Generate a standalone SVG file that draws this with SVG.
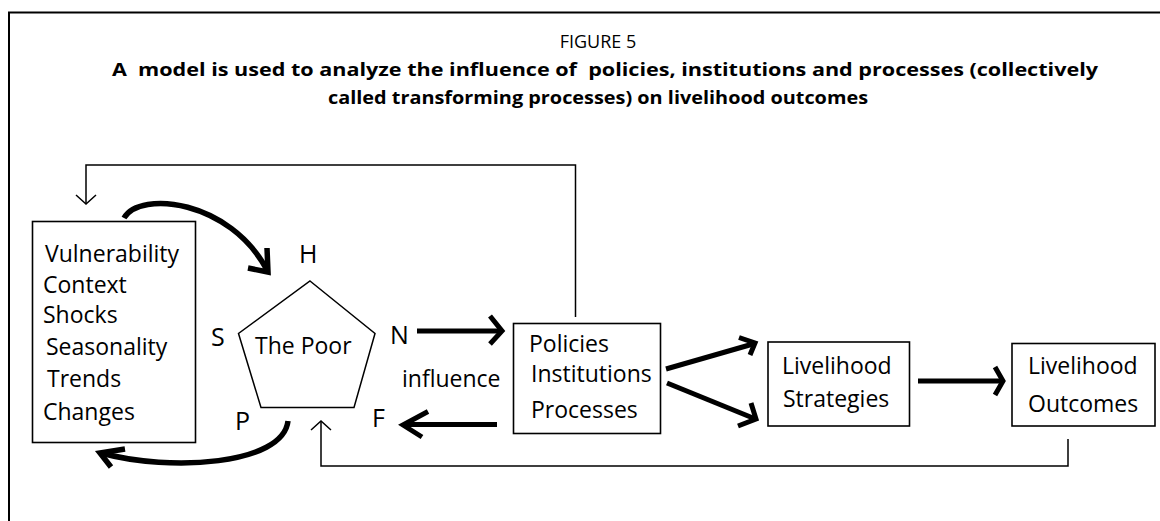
<svg xmlns="http://www.w3.org/2000/svg" width="1160" height="521" viewBox="0 0 1160 521">
<style>
  .t { font-family: "Open Sans", "Noto Sans", sans-serif; font-size: 23px; fill: #000; }
  .l { font-family: "Open Sans", "Noto Sans", sans-serif; font-size: 25px; fill: #000; }
  .ttl { font-family: "Open Sans", "Noto Sans", sans-serif; fill: #000; white-space: pre; }
  .box { fill: #fff; stroke: #000; stroke-width: 1.6; }
  .thin { fill: none; stroke: #000; stroke-width: 1.5; }
  .thick { fill: none; stroke: #000; stroke-width: 5; stroke-linejoin: miter; }
  .curve { fill: none; stroke: #000; stroke-width: 5.5; stroke-linejoin: miter; }
</style>
<rect width="1160" height="521" fill="#fff"/>
<path d="M9,521 V12.5 H1160" fill="none" stroke="#000" stroke-width="2"/>

<g id="title">
  <text class="ttl" x="598" y="48" font-size="18" text-anchor="middle">FIGURE 5</text>
  <text class="ttl" x="112" y="76" font-size="18" font-weight="bold" textLength="986" lengthAdjust="spacingAndGlyphs">A  model is used to analyze the influence of  policies, institutions and processes (collectively</text>
  <text class="ttl" x="328" y="104" font-size="18" font-weight="bold" textLength="540" lengthAdjust="spacingAndGlyphs">called transforming processes) on livelihood outcomes</text>
</g>

<g id="connectors">
  <!-- top feedback -->
  <path class="thin" d="M575.5,317 V165 H86 V204"/>
  <path class="thin" d="M76,195 L86,204 L96,195"/>
  <!-- bottom feedback -->
  <path class="thin" d="M1068,439 V466 H321 V421"/>
  <path class="thin" d="M311,430 L321,421 L331,430"/>
  <!-- vulnerability to the poor -->
  <path class="curve" d="M124,218 C140,190 230,200 267,270"/>
  <path class="curve" d="M267,248 L268,272 L248,268"/>
  <!-- the poor to vulnerability -->
  <path class="curve" d="M288,421 C283,465 170,472 101,453"/>
  <path class="curve" d="M125,449 L100,453 L111,467"/>
  <!-- N to policies -->
  <path class="thick" d="M417,331 H500"/>
  <path class="thick" d="M490,316 L502,331 L490,344"/>
  <!-- policies to F -->
  <path class="thick" d="M497,424.5 H404"/>
  <path class="thick" d="M428,411.5 L403,425 L422,437"/>
  <!-- policies to strategies -->
  <path class="thick" d="M666,369 L753,344"/>
  <path class="thick" d="M739,337.5 L755,343 L750,355"/>
  <path class="thick" d="M667,383 L753,418"/>
  <path class="thick" d="M751,403 L756,419 L738,426"/>
  <!-- strategies to outcomes -->
  <path class="thick" d="M918,381 H1001"/>
  <path class="thick" d="M995,367 L1003,381 L995,395"/>
</g>

<g id="vulnerability">
  <rect class="box" x="32.5" y="221.5" width="163" height="221"/>
  <text class="t" x="45" y="262">Vulnerability</text>
  <text class="t" x="43" y="293">Context</text>
  <text class="t" x="43" y="323">Shocks</text>
  <text class="t" x="46" y="355">Seasonality</text>
  <text class="t" x="47" y="387">Trends</text>
  <text class="t" x="43" y="420">Changes</text>
</g>

<g id="the-poor">
  <polygon points="310,281 375,333.5 354,407.5 261,407.5 238.5,333.5" fill="#fff" stroke="#000" stroke-width="1.5"/>
  <text class="t" x="255" y="354">The Poor</text>
  <text class="l" x="299" y="263">H</text>
  <text class="l" x="211" y="346">S</text>
  <text class="l" x="390" y="344">N</text>
  <text class="l" x="235" y="430">P</text>
  <text class="l" x="372" y="427">F</text>
</g>

<g id="influence">
  <text class="t" x="402" y="387">influence</text>
</g>

<g id="policies">
  <rect class="box" x="513.5" y="323.5" width="147" height="110"/>
  <text class="t" x="529" y="352">Policies</text>
  <text class="t" x="531" y="382">Institutions</text>
  <text class="t" x="531" y="418">Processes</text>
</g>

<g id="strategies">
  <rect class="box" x="768" y="342" width="141.5" height="84"/>
  <text class="t" x="782" y="374">Livelihood</text>
  <text class="t" x="783" y="407">Strategies</text>
</g>

<g id="outcomes">
  <rect class="box" x="1012" y="343.5" width="143" height="82.5"/>
  <text class="t" x="1028" y="374">Livelihood</text>
  <text class="t" x="1028" y="412">Outcomes</text>
</g>
</svg>
